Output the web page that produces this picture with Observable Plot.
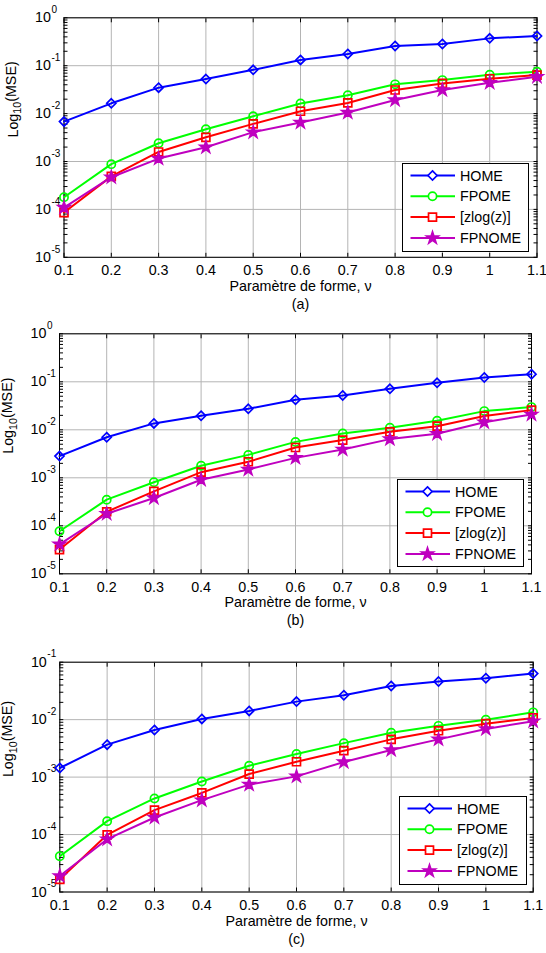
<!DOCTYPE html>
<html><head><meta charset="utf-8">
<script src="https://cdn.jsdelivr.net/npm/d3@7"></script>
<script src="https://cdn.jsdelivr.net/npm/@observablehq/plot@0.6"></script>
<style>
body{margin:0;background:#fff;}
#fig{position:relative;width:546px;height:953px;overflow:hidden;font-family:"Liberation Sans",Arial,sans-serif;background:#fff;}
.panel{position:absolute;left:0;}
.legend{position:absolute;background:#fff;border:1px solid #000;box-sizing:border-box;}
.legend svg{display:block;}
</style></head><body><div id="fig"></div>
<script>
const xValues = [0.1, 0.2, 0.3, 0.4, 0.5, 0.6, 0.7, 0.8, 0.9, 1.0, 1.1];
const xTickLabels = ["0.1","0.2","0.3","0.4","0.5","0.6","0.7","0.8","0.9","1","1.1"];
const seriesNames = ["HOME", "FPOME", "[zlog(z)]", "FPNOME"];
const seriesColors = ["#0000ff", "#00ff00", "#ff0000", "#bf00bf"];
const seriesSymbols = ["diamond2", "circle", "square", "star"];
const seriesFilled = [false, false, false, true];
const xLabel = "Paramètre de forme, ν";
const yLabel = "Log10(MSE)";
const panelCaptions = ["(a)", "(b)", "(c)"];
const yExponentsAB = [0, -1, -2, -3, -4, -5];
const yExponentsC = [-1, -2, -3, -4, -5];

// Panel (a)
const homeA   = [0.0068, 0.0164, 0.0348, 0.0526, 0.082, 0.132, 0.176, 0.258, 0.284, 0.372, 0.417];
const fpomeA  = [1.79e-4, 8.8e-4, 0.0024, 0.0047, 0.0088, 0.0162, 0.0241, 0.0408, 0.0501, 0.0647, 0.0746];
const zlogA   = [8.6e-5, 4.9e-4, 0.00158, 0.0032, 0.0061, 0.0112, 0.0167, 0.0311, 0.0427, 0.0534, 0.0637];
const fpnomeA = [1.09e-4, 4.7e-4, 0.00115, 0.00198, 0.0041, 0.0065, 0.0105, 0.0193, 0.031, 0.0441, 0.0587];
// Panel (b)
const homeB   = [0.00283, 0.0070, 0.0136, 0.0196, 0.0274, 0.0422, 0.0519, 0.0715, 0.0953, 0.123, 0.144];
const fpomeB  = [7.7e-5, 3.5e-4, 8.1e-4, 0.00178, 0.0030, 0.0056, 0.0084, 0.011, 0.0154, 0.0245, 0.0297];
const zlogB   = [3.2e-5, 1.96e-4, 5.2e-4, 0.00131, 0.00216, 0.00428, 0.0061, 0.0091, 0.0119, 0.0193, 0.0257];
const fpnomeB = [4.1e-5, 1.78e-4, 3.8e-4, 9.1e-4, 0.00149, 0.0026, 0.0039, 0.0064, 0.0083, 0.0144, 0.0209];
// Panel (c)
const homeC   = [0.00144, 0.00367, 0.0066, 0.0103, 0.0142, 0.0206, 0.0266, 0.0386, 0.046, 0.0526, 0.0634];
const fpomeC  = [4.2e-5, 1.71e-4, 4.25e-4, 8.4e-4, 0.00158, 0.00252, 0.0039, 0.0059, 0.0078, 0.0100, 0.0134];
const zlogC   = [1.66e-5, 9.9e-5, 2.66e-4, 5.3e-4, 0.00113, 0.00185, 0.00288, 0.00454, 0.0064, 0.0085, 0.0107];
const fpnomeC = [1.9e-5, 8.3e-5, 1.98e-4, 3.97e-4, 7.4e-4, 0.00103, 0.00183, 0.00296, 0.00454, 0.0069, 0.0094];

const panels = [
  {top: 0, height: 318, mt: 17.3, mb: 61.2, ml: 63.5, mr: 9.5, domain: [1e-5, 1], exps: yExponentsAB,
   series: [homeA, fpomeA, zlogA, fpnomeA], caption: panelCaptions[0],
   legend: {left: 402, top: 163, width: 127, height: 89}},
  {top: 318, height: 314, mt: 15.3, mb: 58.7, ml: 59, mr: 15, domain: [1e-5, 1], exps: yExponentsAB,
   series: [homeB, fpomeB, zlogB, fpnomeB], caption: panelCaptions[1],
   legend: {left: 397, top: 479, width: 127, height: 88}},
  {top: 632, height: 321, mt: 29.7, mb: 61.5, ml: 59.3, mr: 13.3, domain: [1e-5, 1e-1], exps: yExponentsC,
   series: [homeC, fpomeC, zlogC, fpnomeC], caption: panelCaptions[2],
   legend: {left: 399, top: 796, width: 128, height: 89}}
];

const fig = document.getElementById("fig");
const gridColor = "#b4b4b4";
const FS = 14.3;
const symbolMap = {diamond2: d3.symbolDiamond2, circle: d3.symbolCircle, square: d3.symbolSquare, star: d3.symbolStar};
const symbolR = {diamond2: 4.1, circle: 4.1, square: 4.5, star: 3.7};

function makePanel(p) {
  const decades = p.exps.map(e => Math.pow(10, e));
  const minor = [];
  for (let i = 1; i < p.exps.length; i++) {
    const base = Math.pow(10, p.exps[i]);
    for (let k = 2; k <= 9; k++) minor.push(k * base);
  }
  const yTicksAll = decades.concat(minor);
  const marks = [
    Plot.gridX(xValues, {stroke: gridColor, strokeOpacity: 1, strokeWidth: 1}),
    Plot.gridY(decades, {stroke: gridColor, strokeOpacity: 1, strokeWidth: 1}),
    Plot.axisX(xValues, {anchor: "bottom", tickSize: 0, tickPadding: 8, fontSize: FS, label: null,
      tickFormat: d => xTickLabels[xValues.indexOf(d)]}),
    Plot.axisX(xValues, {anchor: "bottom", tickSize: -4, tickFormat: () => "", label: null}),
    Plot.axisX(xValues, {anchor: "top", tickSize: -4, tickFormat: () => "", label: null}),
    Plot.axisY(yTicksAll, {anchor: "left", tickSize: -4, tickFormat: () => "", label: null}),
    Plot.axisY(yTicksAll, {anchor: "right", tickSize: -4, tickFormat: () => "", label: null}),
    Plot.frame({stroke: "#000", strokeWidth: 1}),
    Plot.text(p.exps, {y: e => Math.pow(10, e), frameAnchor: "left", text: () => "10", textAnchor: "end", dx: -13, fontSize: FS}),
    Plot.text(p.exps, {y: e => Math.pow(10, e), frameAnchor: "left", text: e => String(e), textAnchor: "start", dx: -12.5, dy: -8, fontSize: 10}),
    Plot.text([xLabel], {frameAnchor: "bottom", dy: 33.5, text: d => d, fontSize: FS}),
    Plot.text([p.caption], {frameAnchor: "bottom", dy: 51.5, text: d => d, fontSize: FS}),
    Plot.text([yLabel], {frameAnchor: "left", dx: -51, rotate: -90, text: d => d, fontSize: FS})
  ];
  p.series.forEach((vals, si) => {
    const rows = xValues.map((x, i) => ({x, y: vals[i]}));
    marks.push(Plot.line(rows, {x: "x", y: "y", stroke: seriesColors[si], strokeWidth: 2}));
    marks.push(Plot.dot(rows, {x: "x", y: "y", symbol: seriesSymbols[si], r: symbolR[seriesSymbols[si]],
      stroke: seriesColors[si], fill: seriesFilled[si] ? seriesColors[si] : "none", strokeWidth: 1.7}));
  });
  const chart = Plot.plot({
    width: 546, height: p.height,
    marginTop: p.mt, marginBottom: p.mb, marginLeft: p.ml, marginRight: p.mr,
    style: {fontFamily: '"Liberation Sans", Arial, sans-serif', fontSize: FS + "px", background: "transparent", overflow: "visible", color: "#000"},
    x: {domain: [0.1, 1.1]},
    y: {type: "log", domain: p.domain},
    marks
  });
  chart.classList.add("panel");
  chart.style.top = p.top + "px";
  chart.querySelectorAll("text").forEach(t => {
    if (t.textContent === yLabel) {
      t.textContent = "";
      const ns = "http://www.w3.org/2000/svg";
      const a = document.createElementNS(ns, "tspan"); a.textContent = "Log";
      const b = document.createElementNS(ns, "tspan"); b.textContent = "10"; b.setAttribute("dy", "0.35em"); b.setAttribute("font-size", "10.7");
      const c = document.createElementNS(ns, "tspan"); c.textContent = "(MSE)"; c.setAttribute("dy", "-0.35em");
      t.appendChild(a); t.appendChild(b); t.appendChild(c);
    }
  });
  fig.appendChild(chart);

  // legend
  const L = p.legend;
  const div = d3.select(fig).append("div").attr("class", "legend")
    .style("left", L.left + "px").style("top", L.top + "px")
    .style("width", L.width + "px").style("height", L.height + "px");
  const svg = div.append("svg").attr("width", L.width - 2).attr("height", L.height - 2);
  seriesNames.forEach((name, i) => {
    const cy = 11.5 + i * 20.8;
    svg.append("line").attr("x1", 7.5).attr("x2", 52).attr("y1", cy).attr("y2", cy)
      .attr("stroke", seriesColors[i]).attr("stroke-width", 2);
    const s = seriesSymbols[i], r = symbolR[s];
    svg.append("path").attr("d", d3.symbol(symbolMap[s], Math.PI * r * r)())
      .attr("transform", `translate(29.5,${cy})`)
      .attr("stroke", seriesColors[i]).attr("stroke-width", 1.7)
      .attr("fill", seriesFilled[i] ? seriesColors[i] : "#fff");
    svg.append("text").attr("x", 57).attr("y", cy).attr("dy", "0.36em")
      .attr("font-size", FS).attr("font-family", '"Liberation Sans", Arial, sans-serif')
      .text(name);
  });
}

panels.forEach(makePanel);
</script>
</body></html>
